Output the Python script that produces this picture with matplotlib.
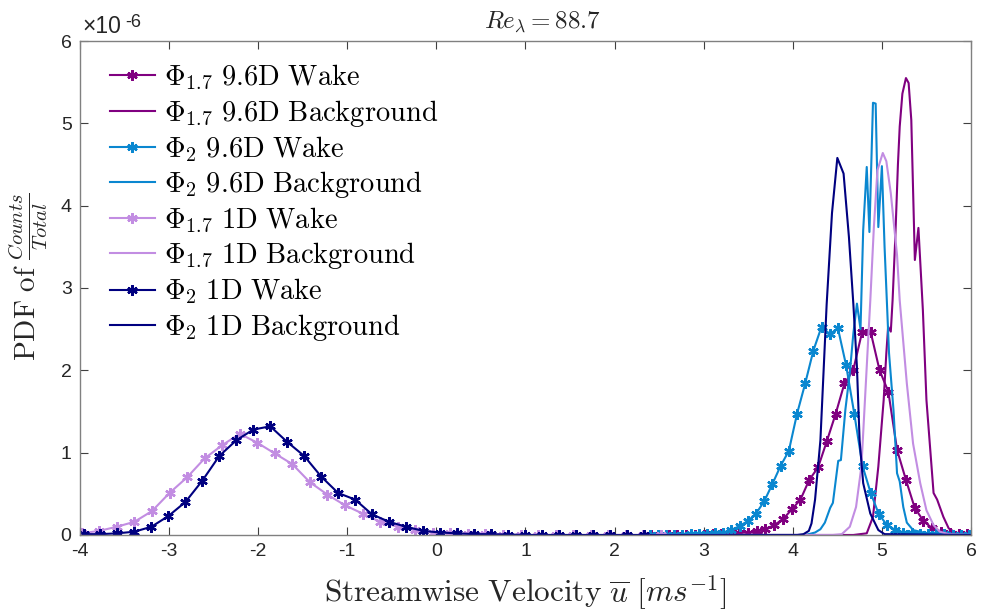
import numpy as np
import matplotlib
matplotlib.use("Agg")
import matplotlib.pyplot as plt

plt.rcParams["font.family"] = ["Liberation Sans", "DejaVu Sans"]
plt.rcParams["mathtext.fontset"] = "cm"
plt.rcParams["axes.unicode_minus"] = False

# PDF values are in units of 1e-6
# wake curves (binned, with markers)
x_phi2_1d_wake = -3.96 + 0.1905 * np.arange(34)
y_phi2_1d_wake = [0.01, 0.01, 0.02, 0.04, 0.10, 0.23, 0.40, 0.66, 0.96, 1.15, 1.28, 1.32,
                  1.13, 0.96, 0.71, 0.51, 0.43, 0.25, 0.16, 0.10, 0.05, 0.03, 0.02, 0.01,
                  0.01, 0.005, 0, 0, 0, 0, 0, 0, 0, 0]

x_phi17_1d_wake = -3.98 + 0.197 * np.arange(34)
y_phi17_1d_wake = [0.02, 0.05, 0.10, 0.16, 0.29, 0.51, 0.70, 0.93, 1.09, 1.23, 1.12, 0.99,
                   0.86, 0.64, 0.49, 0.36, 0.26, 0.16, 0.10, 0.06, 0.03, 0.02, 0.01, 0.01,
                   0.005, 0, 0, 0, 0, 0, 0, 0, 0, 0]

x_phi2_96d_wake = 2.393 + 0.0919 * np.arange(40)
y_phi2_96d_wake = [0, 0, 0, 0, 0.005, 0.01, 0.01, 0.015, 0.02, 0.03, 0.06, 0.11, 0.17, 0.26,
                   0.41, 0.62, 0.84, 1.02, 1.47, 1.84, 2.24, 2.53, 2.44, 2.51, 2.06, 1.47,
                   0.84, 0.51, 0.25, 0.12, 0.06, 0.03, 0.02, 0.015, 0.01, 0.01, 0.01, 0.005,
                   0.005, 0]

x_phi17_96d_wake = np.linspace(2.41, 5.96, 37)
y_phi17_96d_wake = [0, 0, 0, 0, 0, 0.005, 0.005, 0.01, 0.01, 0.02, 0.025, 0.03, 0.045, 0.07,
                    0.12, 0.19, 0.31, 0.43, 0.67, 0.82, 1.14, 1.47, 1.84, 2.00, 2.46, 2.46,
                    2.00, 1.74, 1.03, 0.67, 0.33, 0.17, 0.08, 0.04, 0.02, 0.01, 0.01]

# background curves (fine bins, no markers)
x_phi2_1d_bg = [2.4, 4.05, 4.12, 4.18, 4.21, 4.25, 4.31, 4.38, 4.44, 4.50, 4.57, 4.63, 4.68,
                4.72, 4.75, 4.79, 4.87, 4.96, 5.03, 6.0]
y_phi2_1d_bg = [0, 0, 0.01, 0.05, 0.14, 0.43, 1.15, 2.80, 3.91, 4.58, 4.39, 3.62, 2.80,
                2.04, 1.15, 0.63, 0.26, 0.06, 0.01, 0]

x_phi2_96d_bg = [2.4, 4.10, 4.16, 4.25, 4.31, 4.36, 4.42, 4.45, 4.51, 4.54, 4.59, 4.64, 4.68,
                 4.72, 4.76, 4.79, 4.83, 4.86, 4.90, 4.93, 4.96, 5.00, 5.03, 5.06, 5.08,
                 5.13, 5.17, 5.20, 5.24, 5.28, 5.35, 5.50, 6.0]
y_phi2_96d_bg = [0, 0, 0.005, 0.03, 0.07, 0.15, 0.33, 0.39, 0.90, 0.91, 1.52, 1.97, 2.45,
                 2.81, 2.50, 3.70, 4.47, 3.68, 5.25, 5.24, 3.74, 4.48, 3.50, 2.73, 2.21,
                 1.52, 0.75, 0.65, 0.34, 0.15, 0.06, 0.02, 0]

x_phi17_1d_bg = [2.4, 4.45, 4.55, 4.64, 4.71, 4.77, 4.81, 4.85, 4.87, 4.91, 4.95, 5.01, 5.05,
                 5.10, 5.17, 5.20, 5.28, 5.35, 5.43, 5.50, 5.58, 5.65, 5.75, 6.0]
y_phi17_1d_bg = [0, 0, 0.01, 0.10, 0.34, 0.83, 1.64, 2.45, 2.85, 3.74, 4.43, 4.64, 4.54,
                 4.15, 3.40, 2.85, 1.84, 1.11, 0.63, 0.30, 0.12, 0.04, 0.01, 0]

x_phi17_96d_bg = [2.4, 4.68, 4.83, 4.90, 4.96, 5.02, 5.05, 5.07, 5.10, 5.12, 5.15, 5.18, 5.20,
                  5.23, 5.27, 5.30, 5.33, 5.37, 5.41, 5.46, 5.50, 5.58, 5.62, 5.69, 5.75,
                  5.84, 6.0]
y_phi17_96d_bg = [0, 0, 0.02, 0.22, 0.83, 1.64, 2.21, 2.53, 2.47, 2.85, 3.60, 4.50, 4.96,
                  5.36, 5.55, 5.49, 5.04, 3.34, 3.73, 2.73, 1.64, 0.51, 0.43, 0.22, 0.08,
                  0.02, 0]

c_purple = "#800080"
c_cyan = "#0A87D0"
c_lilac = "#C28DE2"
c_navy = "#000080"

fig = plt.figure(figsize=(9.81, 6.14), dpi=100)
ax = fig.add_axes([0.0815, 0.1287, 0.9083, 0.8045])

mk = dict(marker=(6, 2, 0), markersize=7.5, markeredgewidth=1.7)
lw = 1.5

ax.plot(x_phi17_96d_wake, y_phi17_96d_wake, color=c_purple, lw=lw, **mk,
        label=r"$\Phi_{1.7}\ \mathrm{9.6D\ Wake}$")
ax.plot(x_phi17_96d_bg, y_phi17_96d_bg, color=c_purple, lw=lw,
        label=r"$\Phi_{1.7}\ \mathrm{9.6D\ Background}$")
ax.plot(x_phi2_96d_wake, y_phi2_96d_wake, color=c_cyan, lw=lw, **mk,
        label=r"$\Phi_{2}\ \mathrm{9.6D\ Wake}$")
ax.plot(x_phi2_96d_bg, y_phi2_96d_bg, color=c_cyan, lw=lw,
        label=r"$\Phi_{2}\ \mathrm{9.6D\ Background}$")
ax.plot(x_phi17_1d_wake, y_phi17_1d_wake, color=c_lilac, lw=lw, **mk,
        label=r"$\Phi_{1.7}\ \mathrm{1D\ Wake}$")
ax.plot(x_phi17_1d_bg, y_phi17_1d_bg, color=c_lilac, lw=lw,
        label=r"$\Phi_{1.7}\ \mathrm{1D\ Background}$")
ax.plot(x_phi2_1d_wake, y_phi2_1d_wake, color=c_navy, lw=lw, **mk,
        label=r"$\Phi_{2}\ \mathrm{1D\ Wake}$")
ax.plot(x_phi2_1d_bg, y_phi2_1d_bg, color=c_navy, lw=lw,
        label=r"$\Phi_{2}\ \mathrm{1D\ Background}$")

ax.set_xlim(-4, 6)
ax.set_ylim(0, 6)
ax.set_xticks(range(-4, 7))
ax.set_yticks(range(0, 7))

axis_col = "#262626"
for s in ax.spines.values():
    s.set_color("#808080")
    s.set_linewidth(1.0)
ax.tick_params(direction="in", top=True, right=True, length=6, width=0.8,
               color="#404040", labelsize=14, labelcolor=axis_col, pad=6)

ax.set_xlabel(r"$\mathrm{Streamwise\ Velocity}\ \overline{u}\ [ms^{-1}]$", fontsize=22.5,
              color=axis_col)
ax.xaxis.set_label_coords(0.5, -0.078)
ax.set_ylabel(r"$\mathrm{PDF\ of\ }\frac{Counts}{Total}$", fontsize=21, color=axis_col)
ax.yaxis.set_label_coords(-0.034, 0.524)
ax.set_title(r"$Re_\lambda = 88.7$", fontsize=18, color=axis_col, pad=9, x=0.519)

ax.text(0.003, 1.006, "\u00d710", transform=ax.transAxes, fontsize=16.5, color=axis_col,
        ha="left", va="bottom")
ax.text(0.0505, 1.02, "-6", transform=ax.transAxes, fontsize=13, color=axis_col,
        ha="left", va="bottom")

ax.legend(loc="upper left", bbox_to_anchor=(0.015, 0.99), frameon=False, fontsize=20.5,
          handlelength=1.55, handletextpad=0.35, labelspacing=0.19, borderaxespad=0.2)

fig.savefig("out.png", dpi=100)
